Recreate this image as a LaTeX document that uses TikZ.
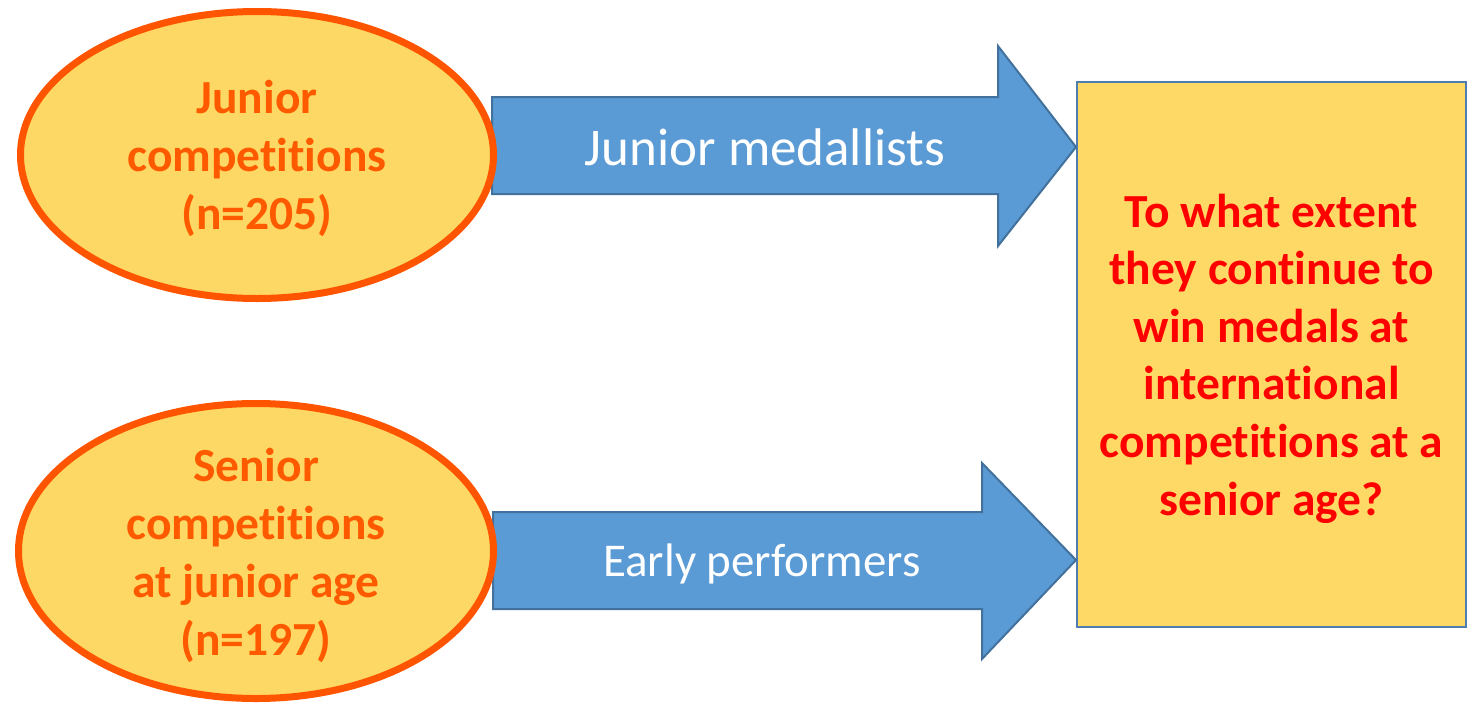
\documentclass[tikz,border=0pt]{standalone}
\usepackage{fontspec}
\setmainfont{Carlito}[Ligatures=NoCommon]
\usetikzlibrary{shapes.geometric}
\definecolor{ellfill}{HTML}{FDD865}
\definecolor{ellline}{HTML}{FF5500}
\definecolor{elltext}{HTML}{FF5A00}
\definecolor{arrfill}{HTML}{5B9BD5}
\definecolor{arrline}{HTML}{41719C}
\definecolor{boxfill}{HTML}{FFD966}
\definecolor{boxline}{HTML}{4F7DAF}
\definecolor{boxtext}{HTML}{FF0000}
\begin{document}
\begin{tikzpicture}[x=1pt,y=-1pt,
  ellnode/.style={ellipse, draw=ellline, fill=ellfill, line width=7pt, inner sep=0pt},
  elltxt/.style={inner sep=0pt, align=center, text=elltext, font=\fontsize{47.5}{58}\selectfont\bfseries},
  blockarrow/.style={draw=arrline, fill=arrfill, line width=2pt, line join=miter},
  arrlabel/.style={text=white, inner sep=0pt},
  qbox/.style={rectangle, draw=boxline, fill=boxfill, line width=2pt, inner sep=0pt},
  qtxt/.style={inner sep=0pt, align=center, text=boxtext, font=\fontsize{47.5}{57.6}\selectfont\bfseries}]
\useasboundingbox (0,0) rectangle (1474,704);
\fill[white] (0,0) rectangle (1474,704);
% question box
\node[qbox, minimum width=389pt, minimum height=545pt] (q) at (1271.5,354.5) {};
\node[qtxt, yshift=-4pt] (qt) at (q.center)
  {To what extent\\they continue to\\win medals at\\international\\competitions at a\\senior age?};
% arrow tips on the box
\coordinate (tip1) at (q.west |- 0,147);
\coordinate (tip2) at (q.west |- 0,560);
% block arrows
\draw[blockarrow] (492,97) -- (998,97) -- (998,46) -- (tip1) -- (998,246) -- (998,194) -- (492,194) -- cycle;
\draw[blockarrow] (493,512) -- (982,512) -- (982,463) -- (tip2) -- (982,659) -- (982,609) -- (493,609) -- cycle;
\node[arrlabel, font=\fontsize{53}{64}\selectfont] (a1) at (765,147) {Junior medallists};
\node[arrlabel, font=\fontsize{47}{57}\selectfont] (a2) at (762,564) {Early performers};
% ellipses
\node[ellnode, minimum width=473pt, minimum height=287pt] (e1) at (257,155) {};
\node[elltxt, yshift=-3pt] (e1t) at (e1.center) {Junior\\competitions\\(n=205)};
\node[ellnode, minimum width=475pt, minimum height=295pt] (e2) at (256,551) {};
\node[elltxt, yshift=-4pt] (e2t) at (e2.center) {Senior\\competitions\\at junior age\\(n=197)};
\end{tikzpicture}
\end{document}
